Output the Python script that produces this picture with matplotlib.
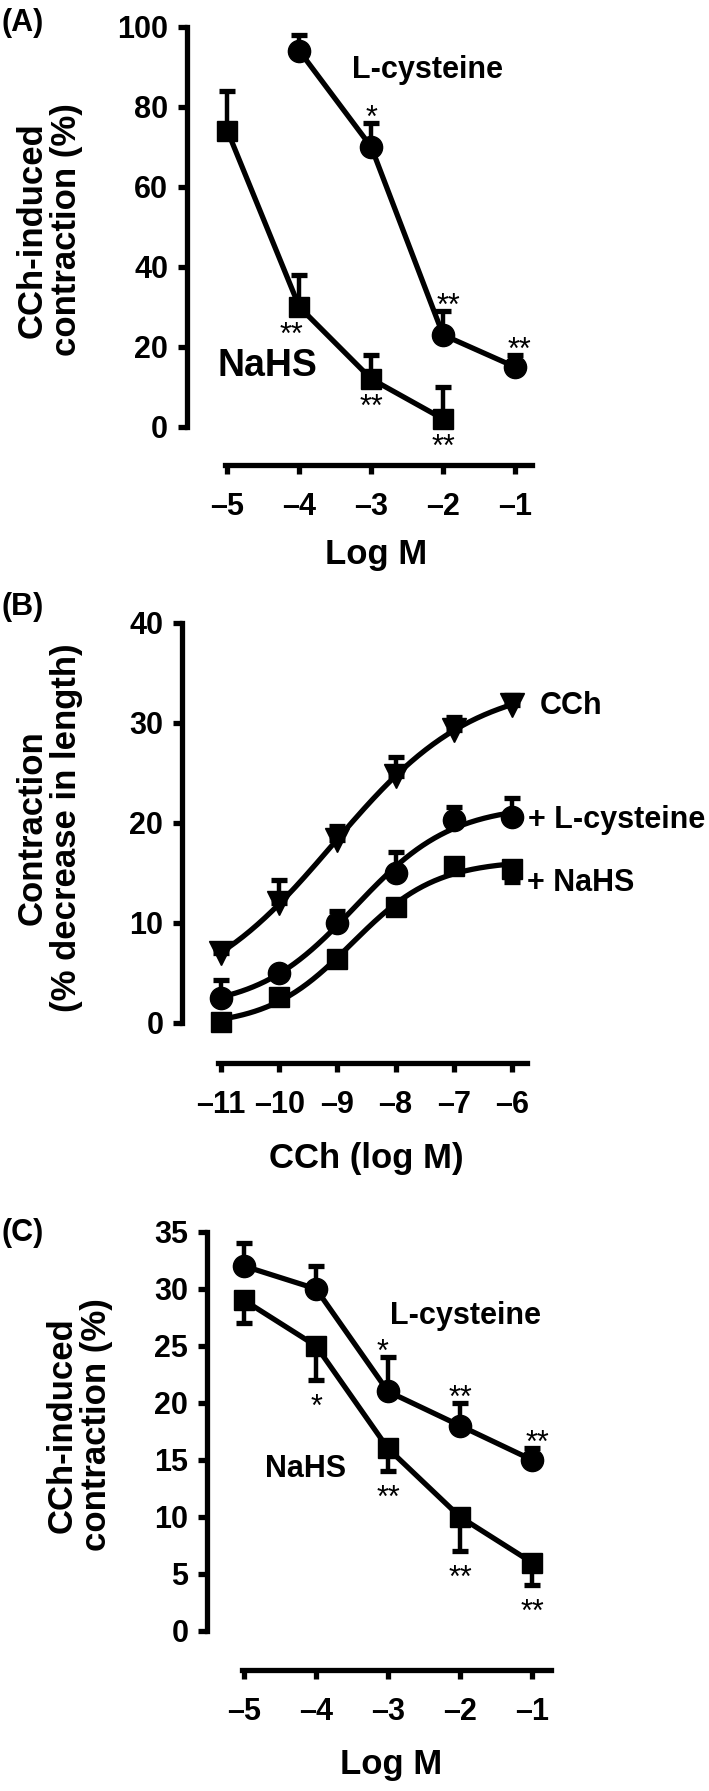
import numpy as np
import matplotlib
matplotlib.use("Agg")
from matplotlib import pyplot as plt

plt.rcParams['font.family'] = ['Liberation Sans', 'DejaVu Sans']
plt.rcParams['font.weight'] = 'bold'
plt.rcParams['axes.labelweight'] = 'bold'

# panel A: concentration-response to the H2S donors
a_cys_x = [-4, -3, -2, -1]
a_cys_y = [94, 70, 23, 15]
a_cys_err = [4, 6, 6, 3]
a_cys_stars = ['', '*', '**', '**']
a_nahs_x = [-5, -4, -3, -2]
a_nahs_y = [74, 30, 12, 2]
a_nahs_err = [10, 8, 6, 8]
a_nahs_stars = ['', '**', '**', '**']
a_xticks = [-5, -4, -3, -2, -1]
a_yticks = [0, 20, 40, 60, 80, 100]

# panel B: CCh curves
b_x = [-11, -10, -9, -8, -7, -6]
b_cch_y = [7.0, 12.0, 18.3, 24.7, 29.3, 31.8]
b_cch_err = [0.5, 2.3, 1.4, 1.9, 1.3, 1.0]
b_cys_y = [2.5, 5.0, 10.0, 15.0, 20.3, 20.6]
b_cys_err = [1.8, 0.5, 1.2, 2.1, 1.3, 1.9]
b_nahs_y = [0.1, 2.6, 6.4, 11.6, 15.7, 15.4]
b_nahs_err = [0.5, 0.5, 0.5, 0.5, 0.5, 1.3]
b_yticks = [0, 10, 20, 30, 40]

# panel C
c_x = [-5, -4, -3, -2, -1]
c_cys_y = [32, 30, 21, 18, 15]
c_cys_err = [2, 2, 3, 2, 1]
c_cys_stars = ['', '', '*', '**', '**']
c_nahs_y = [29, 25, 16, 10, 6]
c_nahs_err = [2, 3, 2, 3, 2]
c_nahs_stars = ['', '*', '**', '**', '**']
c_yticks = [0, 5, 10, 15, 20, 25, 30, 35]

LW = 3.8
STAR_FS = 22
MS_O, MS_S, MS_V = 16, 14, 17


def fit_logistic(x, y):
    # 4 parameter logistic, crude grid search + linear lsq for bottom/top
    x = np.asarray(x, float)
    y = np.asarray(y, float)
    best = None
    for ec50 in np.linspace(-11, -6, 201):
        for hill in np.linspace(0.2, 2.0, 91):
            s = 1.0 / (1.0 + 10 ** ((ec50 - x) * hill))
            A = np.column_stack([np.ones_like(s), s])
            coef = np.linalg.lstsq(A, y, rcond=None)[0]
            err = np.sum((A @ coef - y) ** 2)
            if best is None or err < best[0]:
                best = (err, ec50, hill, coef)
    _, ec50, hill, coef = best
    return lambda xx: coef[0] + coef[1] / (1.0 + 10 ** ((ec50 - xx) * hill))


def style_axes(ax, xlim, ylim, xbound_lo, yticks, xticks):
    ax.set_xlim(*xlim)
    ax.set_ylim(*ylim)
    for s in ['top', 'right']:
        ax.spines[s].set_visible(False)
    for s in ['left', 'bottom']:
        ax.spines[s].set_linewidth(3.8)
        ax.spines[s].set_capstyle('projecting')
    ax.spines['left'].set_bounds(yticks[0], yticks[-1])
    ax.spines['bottom'].set_bounds(xbound_lo, xlim[1])
    ax.set_yticks(yticks)
    ax.set_xticks(xticks)
    ax.set_xticklabels(['\u2013%d' % abs(t) for t in xticks])
    ax.tick_params(width=3.8, length=6.5, labelsize=22)
    ax.tick_params(axis='x', pad=13)
    ax.tick_params(axis='y', pad=7)
    ax.set_facecolor('none')


def errs(ax, x, y, lo, hi):
    e = ax.errorbar(x, y, yerr=[lo, hi], fmt='none', ecolor='k',
                    elinewidth=3.2, capsize=6, capthick=3.8, zorder=2)
    for art in list(e.lines[1]) + list(e.lines[2]):
        art.set_clip_on(False)


def stars(ax, x, y, labels, dy, dx=None):
    if dx is None:
        dx = [0] * len(x)
    for xi, yi, t, ox in zip(x, y, labels, dx):
        if t:
            ax.annotate(t, (xi, yi), xytext=(ox, dy - 0.57 * STAR_FS),
                        textcoords='offset points', ha='center', va='baseline',
                        fontsize=STAR_FS, fontweight='normal', annotation_clip=False)


def label(ax, x, y, text, fs, ha='center'):
    # y is the visual middle of the capitals
    ax.annotate(text, (x, y), xytext=(0, -0.36 * fs), textcoords='offset points',
                ha=ha, va='baseline', fontsize=fs, annotation_clip=False)


fig = plt.figure(figsize=(7.09, 17.91), dpi=100)

# ---------- A ----------
ax = fig.add_axes([0.2637, 0.7404, 0.4866, 0.2446])
style_axes(ax, (-5.563, -0.764), (-9.5, 100), -5.035, a_yticks, a_xticks)
zero = [0] * 4
errs(ax, a_cys_x, a_cys_y, zero, a_cys_err)
errs(ax, a_nahs_x, a_nahs_y, zero, a_nahs_err)
ax.plot(a_cys_x, a_cys_y, 'k-o', lw=LW, ms=MS_O, clip_on=False, zorder=3)
ax.plot(a_nahs_x, a_nahs_y, 'k-s', lw=LW, ms=MS_S, clip_on=False, zorder=3)
stars(ax, a_cys_x, np.add(a_cys_y, a_cys_err), a_cys_stars, 10, dx=[0, 0, 4, 3])
stars(ax, a_nahs_x, a_nahs_y, a_nahs_stars, -14, dx=[0, -6, 0, 0])
label(ax, -2.22, 90, 'L-cysteine', 22)
label(ax, -4.44, 16.2, 'NaHS', 27)
ax.set_xlabel('Log M', fontsize=25, va='center')
ax.xaxis.set_label_coords(0.548, -0.205)
ax.set_ylabel('CCh-induced\ncontraction (%)', fontsize=25, va='center', linespacing=1.05)
ax.yaxis.set_label_coords(-0.40, 0.537)

# ---------- B ----------
ax = fig.add_axes([0.2567, 0.4065, 0.4866, 0.2457])
style_axes(ax, (-11.67, -5.742), (-4, 40), -11.05, b_yticks, b_x)
zero = [0] * 6
errs(ax, b_x, b_cch_y, zero, b_cch_err)
errs(ax, b_x, b_cys_y, zero, b_cys_err)
errs(ax, b_x, b_nahs_y, b_nahs_err, zero)
xx = np.linspace(b_x[0], b_x[-1], 200)
for yv, mk, ms in [(b_cch_y, 'v', MS_V), (b_cys_y, 'o', MS_O), (b_nahs_y, 's', MS_S)]:
    f = fit_logistic(b_x, yv)
    ax.plot(xx, f(xx), 'k-', lw=LW, clip_on=False, zorder=3)
    ax.plot(b_x, yv, 'k' + mk, ms=ms, clip_on=False, zorder=4)
label(ax, -5.52, 32.0, 'CCh', 22, ha='left')
label(ax, -5.725, 20.6, '+ L-cysteine', 22, ha='left')
label(ax, -5.74, 14.3, '+ NaHS', 22, ha='left')
ax.set_xlabel('CCh (log M)', fontsize=25, va='center')
ax.xaxis.set_label_coords(0.533, -0.216)
ax.set_ylabel('Contraction\n(% decrease in length)', fontsize=25, va='center', linespacing=1.05)
ax.yaxis.set_label_coords(-0.385, 0.534)

# ---------- C ----------
ax = fig.add_axes([0.2920, 0.0676, 0.4852, 0.2446])
style_axes(ax, (-5.514, -0.736), (-3.42, 35), -5.03, c_yticks, c_x)
zero = [0] * 5
errs(ax, c_x, c_cys_y, zero, c_cys_err)
errs(ax, c_x, c_nahs_y, c_nahs_err, zero)
ax.plot(c_x, c_cys_y, 'k-o', lw=LW, ms=MS_O, clip_on=False, zorder=3)
ax.plot(c_x, c_nahs_y, 'k-s', lw=LW, ms=MS_S, clip_on=False, zorder=3)
stars(ax, c_x, np.add(c_cys_y, c_cys_err), c_cys_stars, 10, dx=[0, 0, -4, 0, 4])
stars(ax, c_x, np.subtract(c_nahs_y, c_nahs_err), c_nahs_stars, -13)
label(ax, -1.93, 27.9, 'L-cysteine', 22)
label(ax, -4.15, 14.5, 'NaHS', 22)
ax.set_xlabel('Log M', fontsize=25, va='center')
ax.xaxis.set_label_coords(0.535, -0.217)
ax.set_ylabel('CCh-induced\ncontraction (%)', fontsize=25, va='center', linespacing=1.05)
ax.yaxis.set_label_coords(-0.37, 0.559)

# panel letters
for lab, ypx in [('(A)', 23), ('(B)', 607), ('(C)', 1233)]:
    fig.text(0.002, 1 - ypx / 1791, lab, fontsize=22, ha='left', va='center')

fig.savefig('out.png', dpi=100)
